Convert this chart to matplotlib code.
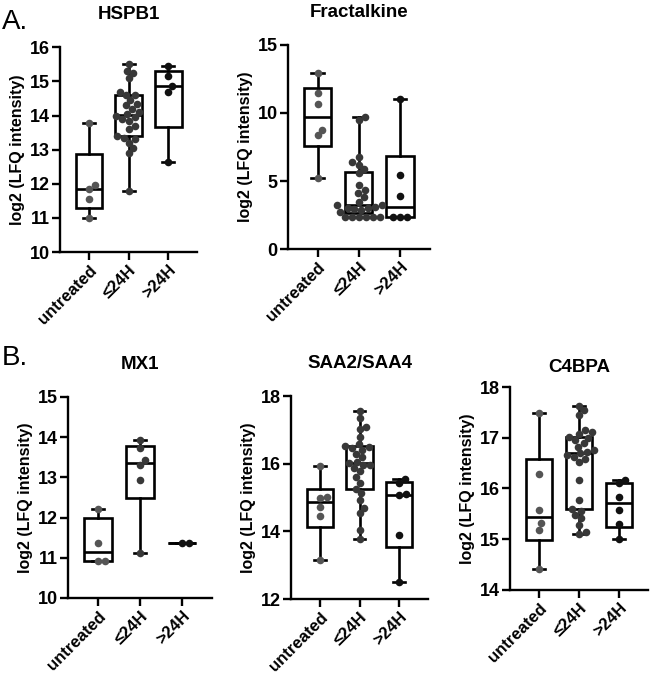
import matplotlib
matplotlib.use("Agg")
import matplotlib.pyplot as plt
import numpy as np

plt.rcParams['font.family'] = ['Liberation Sans', 'DejaVu Sans']
plt.rcParams['font.weight'] = 'bold'

# groups on every x axis
groups = ['untreated', '≤24H', '>24H']
dot_colors = ['#555555', '#383838', '#111111']

# HSPB1
hspb1_untreated = [11.0, 11.56, 11.85, 11.95, 13.78]
hspb1_le24 = [11.8, 12.9, 13.05, 13.2, 13.3, 13.35, 13.4, 13.6, 13.7, 13.85, 13.9, 13.95, 14.0,
              14.05, 14.1, 14.2, 14.3, 14.35, 14.45, 14.6, 14.6, 14.7, 15.1, 15.25, 15.3, 15.5]
hspb1_gt24 = [12.63, 14.7, 14.87, 15.15, 15.46]

# Fractalkine
fkn_untreated = [5.24, 8.39, 8.76, 10.67, 11.45, 12.92]
fkn_le24 = [2.37, 2.37, 2.37, 2.37, 2.37, 2.37, 2.74, 2.85, 2.95, 3.0, 3.05, 3.11, 3.2,
            3.25, 3.47, 3.84, 4.13, 4.35, 4.72, 5.6, 5.9, 6.19, 6.41, 6.78, 9.45, 9.69]
fkn_gt24 = [2.37, 2.37, 2.37, 3.87, 5.46, 11.01]

# MX1
mx1_untreated = [10.91, 10.91, 11.36, 12.21]
mx1_le24 = [11.12, 12.93, 13.31, 13.43, 13.72, 13.94]
mx1_gt24 = [11.37, 11.37]

# SAA2/SAA4
saa_untreated = [13.16, 14.46, 14.73, 15.0, 15.02, 15.94]
saa_le24 = [13.78, 14.05, 14.54, 14.69, 14.93, 15.13, 15.25, 15.42, 15.6, 15.77, 15.87, 15.96, 15.96,
            16.01, 16.06, 16.19, 16.3, 16.4, 16.46, 16.5, 16.52, 16.58, 16.8, 17.02, 17.08, 17.34, 17.56]
saa_gt24 = [12.49, 13.9, 15.06, 15.1, 15.42, 15.56]

# C4BPA
c4bpa_untreated = [14.41, 15.19, 15.32, 15.57, 16.28, 17.49]
c4bpa_le24 = [15.1, 15.15, 15.28, 15.41, 15.48, 15.55, 15.6, 15.78, 16.16, 16.52, 16.59, 16.62, 16.66,
              16.69, 16.72, 16.75, 16.82, 16.89, 16.95, 17.0, 17.02, 17.08, 17.11, 17.15, 17.44, 17.54, 17.63]
c4bpa_gt24 = [15.0, 15.31, 15.57, 15.84, 16.1, 16.16]

titles = ['HSPB1', 'Fractalkine', 'MX1', 'SAA2/SAA4', 'C4BPA']
panel_data = [
    [hspb1_untreated, hspb1_le24, hspb1_gt24],
    [fkn_untreated, fkn_le24, fkn_gt24],
    [mx1_untreated, mx1_le24, mx1_gt24],
    [saa_untreated, saa_le24, saa_gt24],
    [c4bpa_untreated, c4bpa_le24, c4bpa_gt24],
]
y_ranges = [(10, 16), (0, 15), (10, 15), (12, 18), (14, 18)]
y_ticks = [np.arange(10, 17, 1), [0, 5, 10, 15], np.arange(10, 16, 1), [12, 14, 16, 18], np.arange(14, 19, 1)]

# axes rectangles (figure fractions)
rects = [
    [0.0923, 0.6283, 0.211, 0.302],
    [0.443, 0.6327, 0.218, 0.301],
    [0.1046, 0.118, 0.2215, 0.2965],
    [0.4477, 0.1165, 0.2108, 0.2994],
    [0.7846, 0.1298, 0.2123, 0.2994],
]
title_pads = [20, 20, 20, 20, 11]


def box_stats(values):
    # GraphPad style quartiles: p*(n+1)
    v = np.asarray(values)
    q1, med, q3 = np.percentile(v, [25, 50, 75], method='weibull')
    return dict(med=med, q1=q1, q3=q3, whislo=v.min(), whishi=v.max(), fliers=[])


def swarm(ax, xc, values, diam):
    # simple beeswarm in pixel space
    pts = ax.transData.transform(np.column_stack([np.full(len(values), xc), values]))
    x0 = pts[0, 0]
    ys = pts[:, 1]
    xs = np.zeros(len(values))
    placed = []
    for i in np.argsort(ys):
        cands = [0.0]
        for px, py in placed:
            dy = ys[i] - py
            if abs(dy) < diam:
                dx = np.sqrt(diam ** 2 - dy ** 2)
                cands += [px + dx + 0.01, px - dx - 0.01]
        cands.sort(key=abs)
        for c in cands:
            if all((c - px) ** 2 + (ys[i] - py) ** 2 >= diam ** 2 - 0.05 for px, py in placed):
                xs[i] = c
                break
        placed.append((xs[i], ys[i]))
    back = ax.transData.inverted().transform(np.column_stack([x0 + xs, ys]))
    return back[:, 0]


fig = plt.figure(figsize=(6.5, 6.78), dpi=100)

for k in range(5):
    ax = fig.add_axes(rects[k])
    ax.set_xlim(-0.72, 2.72)
    ax.set_ylim(*y_ranges[k])
    stats = [box_stats(d) for d in panel_data[k]]
    ax.bxp(stats, positions=[0, 1, 2], widths=0.66, capwidths=0.3, showfliers=False,
           patch_artist=True,
           boxprops=dict(facecolor='white', edgecolor='black', linewidth=1.9),
           whiskerprops=dict(color='black', linewidth=1.9),
           capprops=dict(color='black', linewidth=1.9),
           medianprops=dict(color='black', linewidth=1.9), zorder=2)
    for g in range(3):
        xs = swarm(ax, g, panel_data[k][g], 7.0)
        ax.scatter(xs, panel_data[k][g], s=30, color=dot_colors[g], zorder=3,
                   linewidths=0, clip_on=False)
    ax.spines['top'].set_visible(False)
    ax.spines['right'].set_visible(False)
    ax.spines['left'].set_linewidth(1.7)
    ax.spines['bottom'].set_linewidth(1.7)
    ax.set_yticks(y_ticks[k])
    ax.set_xticks([0, 1, 2])
    ax.set_xticklabels(groups, rotation=45, ha='right', rotation_mode='anchor')
    ax.tick_params(axis='both', width=1.7, length=5.5, labelsize=13, pad=2)
    ax.tick_params(axis='x', labelsize=12)
    ax.set_ylabel('log2 (LFQ intensity)', fontsize=11.5, fontweight='bold', labelpad=3)
    ax.set_title(titles[k], fontsize=13.5, fontweight='bold', pad=title_pads[k])

fig.text(0.003, 1 - 22 / 678, 'A.', fontsize=20, fontweight='normal', va='center', ha='left')
fig.text(0.003, 1 - 358 / 678, 'B.', fontsize=20, fontweight='normal', va='center', ha='left')

fig.savefig('out.png', dpi=100)
